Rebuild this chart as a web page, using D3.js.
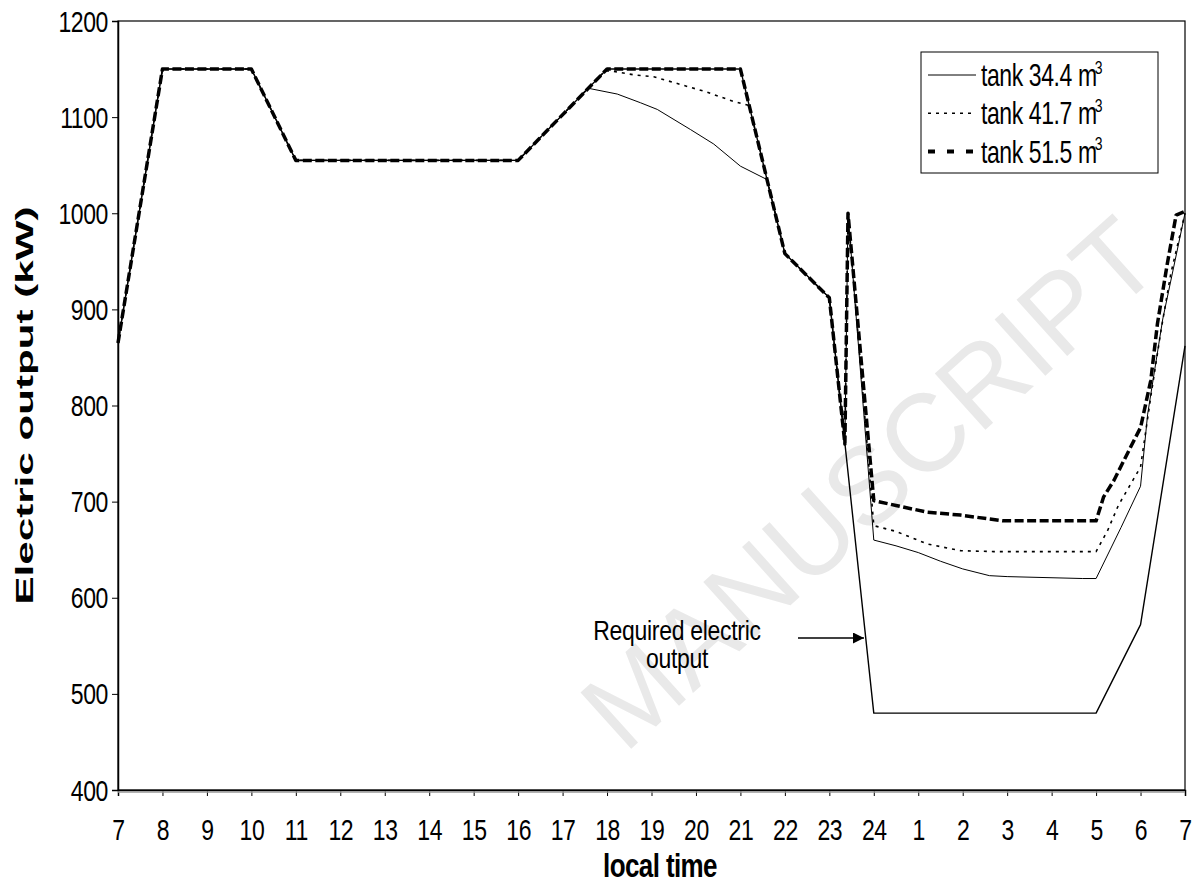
<!DOCTYPE html>
<html>
<head>
<meta charset="utf-8">
<script src="https://cdnjs.cloudflare.com/ajax/libs/d3/7.8.5/d3.min.js"></script>
<style>
  body { margin: 0; background: #fff; }
  svg text { font-family: "Liberation Sans", Arial, sans-serif; fill: #000; }
</style>
</head>
<body>
<div id="chart"></div>
<script>
// hour index: 0 = 7:00, 17 = 24:00, 24 = 7:00 next morning
const hourLabels = ["7","8","9","10","11","12","13","14","15","16","17","18","19","20","21",
                    "22","23","24","1","2","3","4","5","6","7"];
const yTicks = [400, 500, 600, 700, 800, 900, 1000, 1100, 1200];

// Required electric output
const requiredT = [0, 1, 3, 4, 9, 11, 14, 15, 16, 17, 22, 23, 24];
const requiredV = [865, 1150, 1150, 1055, 1055, 1150, 1150, 958, 912, 480, 480, 572, 862];

// tank 34.4 m3
const tank34T = [0, 1, 3, 4, 9, 10.58, 11.23, 11.75, 12.13, 12.88, 13.4, 14.0, 14.6, 15, 16, 16.35, 16.42,
                 17, 17.5, 18, 18.5, 19, 19.6, 20, 21.7, 22, 22.56, 23, 23.16, 23.5, 24];
const tank34V = [865, 1150, 1150, 1055, 1055, 1130, 1124, 1115, 1108, 1087, 1072, 1049, 1035, 958, 912, 760, 1000,
                 660, 654, 647, 638, 630, 623, 622, 620, 620, 673, 716, 791, 890, 1000];

// tank 41.7 m3
const tank41T = [0, 1, 3, 4, 9, 10.95, 11.1, 11.6, 12.05, 12.65, 13.25, 13.8, 14.2, 15, 16, 16.35, 16.42,
                 17, 17.5, 18.2, 18.95, 19.7, 22, 22.26, 22.5, 23, 23.23, 23.46, 23.68, 24];
const tank41V = [865, 1150, 1150, 1055, 1055, 1148, 1148, 1144, 1142, 1134, 1126, 1117, 1112, 958, 912, 760, 1000,
                 675, 669, 656, 649, 648, 648, 670, 696, 736, 809, 878, 937, 1000];

// tank 51.5 m3
const tank51T = [0, 1, 3, 4, 9, 11, 14, 15, 16, 16.35, 16.42, 17, 17.5, 18.2, 18.95, 19.9, 22,
                 22.17, 22.4, 22.78, 23, 23.23, 23.38, 23.6, 23.8, 24];
const tank51V = [865, 1150, 1150, 1055, 1055, 1150, 1150, 958, 912, 760, 1000, 701, 696, 689, 686, 680, 680,
                 705, 722, 757, 777, 826, 885, 947, 998, 1002];

const legendNames = ["tank 34.4 m", "tank 41.7 m", "tank 51.5 m"];

let width = 1199, height = 887;
let margin = {top: 21, right: 14, bottom: 97, left: 118};
let stretch = 1.28; //text in the original looks vertically stretched

let svg = d3.select("#chart").append("svg")
            .attr("width", width)
            .attr("height", height);

let x = d3.scaleLinear().domain([0, 24]).range([margin.left, width - margin.right]);
let y = d3.scaleLinear().domain([400, 1200]).range([height - margin.bottom, margin.top]);

//faint watermark behind the chart
svg.append("text")
   .attr("transform", "translate(1165,268) rotate(-42)")
   .attr("text-anchor", "end")
   .style("font-size", "110px")
   .style("fill", "#e9e9e9")
   .text("MANUSCRIPT");

//plot box (top and right border)
svg.append("rect")
   .attr("x", margin.left).attr("y", margin.top)
   .attr("width", x(24) - x(0)).attr("height", y(400) - y(1200))
   .attr("fill", "none").attr("stroke", "#000").attr("stroke-width", 1.2);

//y axis
let yAxis = svg.append("g")
   .attr("transform", "translate(" + margin.left + ",0)")
   .call(d3.axisLeft(y).tickValues(yTicks).tickFormat(d3.format("d")).tickSize(6));
yAxis.select(".domain").attr("stroke-width", 1.5);
yAxis.selectAll("text")
     .attr("x", null).attr("dy", null)
     .attr("transform", "translate(-10,10) scale(1," + stretch + ")")
     .style("font-size", "23px").style("letter-spacing", "-0.4px");

//x axis
let xAxis = svg.append("g")
   .attr("transform", "translate(0," + y(400) + ")")
   .call(d3.axisBottom(x).tickValues(d3.range(0, 25)).tickFormat(i => hourLabels[i]).tickSize(6));
xAxis.select(".domain").attr("stroke-width", 1.5);
xAxis.selectAll("text")
     .attr("y", null).attr("dy", null)
     .attr("transform", "translate(0,50) scale(1," + stretch + ")")
     .style("font-size", "23px").style("letter-spacing", "-0.4px");

//grey line just under the x axis
svg.append("line")
   .attr("x1", x(0)).attr("x2", x(24))
   .attr("y1", y(400) + 2).attr("y2", y(400) + 2)
   .attr("stroke", "#999").attr("stroke-width", 1.5);

//axis titles
svg.append("text")
   .attr("transform", "translate(660,877) scale(1,1.3)")
   .attr("text-anchor", "middle")
   .style("font-size", "26px").style("font-weight", "bold").style("letter-spacing", "-0.6px")
   .text("local time");

svg.append("text")
   .attr("transform", "translate(33," + (y(400) + y(1200)) / 2 + ") rotate(-90)")
   .attr("text-anchor", "middle")
   .attr("textLength", 398).attr("lengthAdjust", "spacingAndGlyphs")
   .style("font-size", "24px").style("font-weight", "bold")
   .text("Electric output (kW)");

//lines
let line = d3.line().x(d => x(d[0])).y(d => y(d[1]));
function series(ts, vs) {
    return ts.map((t, i) => [t, vs[i]]);
}

let styles = [
    {t: requiredT, v: requiredV, w: 1.4, dash: null},
    {t: tank34T, v: tank34V, w: 1.0, dash: null},
    {t: tank41T, v: tank41V, w: 1.6, dash: "3,5"},
    {t: tank51T, v: tank51V, w: 3.5, dash: "9,3.5"}
];
let lines = svg.append("g");
styles.forEach(s => {
    lines.append("path")
         .datum(series(s.t, s.v))
         .attr("d", line)
         .attr("fill", "none")
         .attr("stroke", "#000")
         .attr("stroke-width", s.w)
         .attr("stroke-linejoin", "round")
         .attr("stroke-dasharray", s.dash);
});

//legend
let lg = svg.append("g");
lg.append("rect")
  .attr("x", 921).attr("y", 52).attr("width", 237).attr("height", 121)
  .attr("fill", "#fff").attr("stroke", "#000").attr("stroke-width", 1);
let legendStyles = [
    {w: 1.0, dash: null},
    {w: 1.6, dash: "3,5"},
    {w: 4, dash: "7,12"}
];
legendNames.forEach((name, i) => {
    let ly = 75 + i * 38.3;
    lg.append("line")
      .attr("x1", 928).attr("x2", 976).attr("y1", ly).attr("y2", ly)
      .attr("stroke", "#000").attr("stroke-width", legendStyles[i].w)
      .attr("stroke-dasharray", legendStyles[i].dash);
    let t = lg.append("text")
      .attr("transform", "translate(981," + (ly + 11) + ") scale(1,1.35)")
      .style("font-size", "23px").style("letter-spacing", "-0.4px");
    t.append("tspan").text(name);
    t.append("tspan").attr("dy", -9).attr("dx", -2).style("font-size", "14px").text("3");
});

//annotation
let ann = svg.append("g");
ann.append("text")
   .attr("transform", "translate(677,640) scale(1,1.2)")
   .attr("text-anchor", "middle")
   .style("font-size", "23px").style("letter-spacing", "-0.3px")
   .text("Required electric");
ann.append("text")
   .attr("transform", "translate(677,668) scale(1,1.2)")
   .attr("text-anchor", "middle")
   .style("font-size", "23px").style("letter-spacing", "-0.3px")
   .text("output");
svg.append("defs").append("marker")
   .attr("id", "arrow").attr("viewBox", "0 0 10 10")
   .attr("refX", 10).attr("refY", 5)
   .attr("markerWidth", 11).attr("markerHeight", 11)
   .attr("markerUnits", "userSpaceOnUse")
   .attr("orient", "auto")
   .append("path").attr("d", "M0,0 L10,5 L0,10 Z").attr("fill", "#000");
ann.append("line")
   .attr("x1", 798).attr("x2", 864).attr("y1", 638).attr("y2", 638)
   .attr("stroke", "#000").attr("stroke-width", 1.3)
   .attr("marker-end", "url(#arrow)");
</script>
</body>
</html>
